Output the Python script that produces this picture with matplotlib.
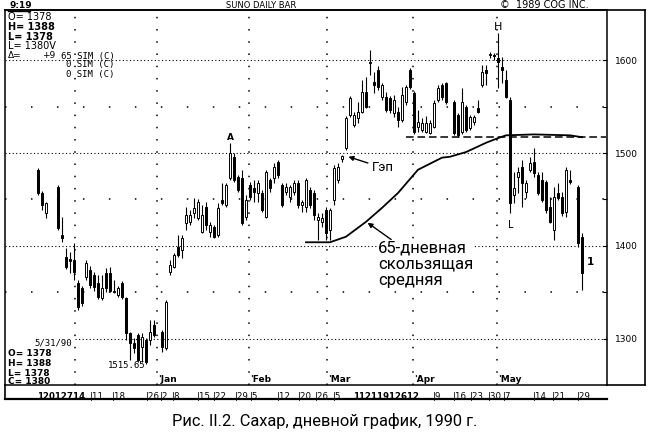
import matplotlib.pyplot as plt
from matplotlib.lines import Line2D

# daily sugar candles, Dec 1989 - May 1990 (trading-day slots, gaps = no bar)
slots = [0, 1, 2, 5, 6, 7, 8, 9, 10, 11, 12, 13, 14, 15, 16, 17, 18, 19, 20, 21,
         22, 23, 24, 25, 26, 27, 28, 29, 31, 32, 33, 34, 35, 36, 37, 38, 39, 40, 41, 42,
         43, 44, 45, 46, 47, 48, 49, 50, 51, 52, 53, 54, 55, 56, 57, 58, 59, 60, 61, 62,
         63, 64, 65, 66, 67, 68, 69, 70, 71, 72, 73, 74, 75, 76, 77, 78, 79, 80, 81, 82,
         83, 84, 85, 86, 87, 88, 89, 90, 91, 92, 93, 94, 95, 96, 97, 98, 99, 100, 101, 102,
         104, 105, 106, 107, 108, 109, 110, 111, 112, 113, 114, 115, 116, 117, 118, 119, 120, 121, 122, 123,
         124, 125, 126, 127, 128, 129, 130, 131, 132, 133, 135, 136]
opens = [1482, 1457, 1436, 1463, 1412, 1388, 1386, 1385, 1360, 1355, 1367, 1374, 1369, 1360, 1344, 1371, 1371, 1352, 1347, 1360,
         1344, 1306, 1296, 1304, 1291, 1299, 1299, 1315, 1307, 1290, 1372, 1377, 1399, 1396, 1425, 1426, 1436, 1430, 1415, 1442,
         1415, 1420, 1412, 1449, 1444, 1473, 1496, 1474, 1473, 1431, 1466, 1462, 1457, 1457, 1431, 1471, 1473, 1490, 1466, 1458,
         1453, 1458, 1468, 1444, 1442, 1460, 1457, 1428, 1426, 1439, 1417, 1449, 1471, 1494, 1505, 1541, 1530, 1538, 1544, 1566,
         1597, 1576, 1589, 1560, 1560, 1559, 1543, 1544, 1535, 1555, 1589, 1565, 1528, 1525, 1523, 1522, 1528, 1557, 1573, 1575,
         1555, 1541, 1523, 1549, 1527, 1533, 1548, 1573, 1589, 1605, 1605, 1602, 1592, 1578, 1557, 1455, 1474, 1485, 1458, 1482,
         1490, 1476, 1471, 1469, 1442, 1417, 1457, 1453, 1437, 1471, 1463, 1410]
highs = [1484, 1459, 1447, 1466, 1431, 1398, 1393, 1403, 1363, 1357, 1385, 1378, 1372, 1369, 1369, 1376, 1377, 1363, 1357, 1362,
         1345, 1308, 1301, 1306, 1306, 1301, 1320, 1320, 1310, 1342, 1385, 1392, 1412, 1412, 1442, 1439, 1452, 1450, 1444, 1447,
         1426, 1423, 1446, 1468, 1468, 1511, 1500, 1476, 1482, 1455, 1469, 1471, 1471, 1460, 1482, 1473, 1489, 1492, 1468, 1468,
         1466, 1471, 1471, 1449, 1473, 1463, 1460, 1435, 1435, 1442, 1441, 1487, 1489, 1498, 1540, 1561, 1544, 1555, 1578, 1582,
         1611, 1587, 1594, 1575, 1566, 1561, 1562, 1549, 1571, 1573, 1591, 1567, 1546, 1538, 1540, 1535, 1557, 1573, 1575, 1576,
         1557, 1543, 1570, 1552, 1541, 1541, 1557, 1595, 1595, 1609, 1608, 1629, 1603, 1589, 1560, 1480, 1485, 1492, 1471, 1496,
         1505, 1480, 1480, 1471, 1453, 1463, 1468, 1458, 1485, 1482, 1466, 1414]
lows = [1455, 1439, 1430, 1417, 1404, 1375, 1371, 1363, 1331, 1335, 1363, 1355, 1352, 1343, 1342, 1350, 1350, 1349, 1345, 1343,
        1299, 1277, 1285, 1275, 1275, 1273, 1294, 1302, 1286, 1288, 1369, 1376, 1388, 1387, 1417, 1423, 1430, 1428, 1414, 1417,
        1410, 1409, 1410, 1444, 1442, 1471, 1469, 1458, 1423, 1428, 1449, 1447, 1447, 1437, 1430, 1458, 1468, 1473, 1442, 1455,
        1447, 1455, 1441, 1437, 1437, 1441, 1428, 1406, 1420, 1406, 1406, 1444, 1468, 1490, 1503, 1539, 1528, 1532, 1543, 1548,
        1584, 1565, 1568, 1557, 1544, 1543, 1539, 1528, 1533, 1552, 1569, 1520, 1523, 1523, 1521, 1520, 1527, 1555, 1557, 1553,
        1519, 1517, 1520, 1523, 1525, 1530, 1543, 1571, 1573, 1602, 1600, 1570, 1575, 1559, 1435, 1446, 1457, 1442, 1452, 1480,
        1474, 1455, 1447, 1435, 1425, 1406, 1449, 1432, 1431, 1467, 1399, 1353]
closes = [1457, 1444, 1446, 1419, 1409, 1377, 1384, 1372, 1334, 1339, 1382, 1358, 1356, 1345, 1355, 1355, 1352, 1350, 1355, 1345,
          1306, 1296, 1290, 1277, 1302, 1275, 1307, 1304, 1291, 1340, 1380, 1390, 1390, 1409, 1433, 1433, 1441, 1447, 1433, 1423,
          1423, 1410, 1441, 1446, 1466, 1500, 1471, 1460, 1425, 1449, 1453, 1458, 1468, 1439, 1480, 1462, 1485, 1476, 1444, 1463,
          1463, 1468, 1444, 1447, 1471, 1444, 1433, 1431, 1430, 1414, 1439, 1484, 1485, 1497, 1538, 1559, 1541, 1544, 1566, 1549,
          1598, 1573, 1571, 1573, 1546, 1546, 1557, 1535, 1562, 1571, 1571, 1523, 1533, 1532, 1532, 1532, 1554, 1570, 1560, 1555,
          1522, 1519, 1555, 1525, 1539, 1539, 1544, 1587, 1586, 1607, 1604, 1598, 1589, 1560, 1446, 1462, 1480, 1468, 1468, 1489,
          1478, 1457, 1449, 1439, 1426, 1453, 1452, 1435, 1482, 1469, 1403, 1371]

# 65-day moving average
ma_slots = [67, 73, 77, 82, 86, 90, 95, 101, 103, 107, 112, 115, 117, 124, 133, 136]
ma_vals = [1404, 1404, 1410, 1426, 1441, 1457, 1482, 1495, 1496, 1501, 1511, 1516, 1519, 1520, 1519, 1517]
resist_level = 1517
resist_span = (92, 142)

price_ticks = [1300, 1400, 1500, 1600]
month_slots = [9.25, 29.75, 52.75, 72.25, 93.75, 114.75]
month_names = ['', "'Jan", "'Feb", "'Mar", "'Apr", "'May"]
date_slots = [-0.25, 13, 18.5, 27, 30.5, 33.5, 39.75, 43.75, 49.25, 53, 59.75, 65, 69.2, 73.75,
              78.75, 98.75, 103.75, 108, 112.5, 116.25, 123.75, 128.5, 134.75]
date_labels = ['12012714', '|11', '|18', '|26', '|2', '|8', '|15', '|22', '|29', '|5', '|12', '|20', '|26', '|5',
               '11211912612', '|9', '|16', '|23', '|30', '|7', '|14', '|21', '|29']

W, H = 650, 432


def fx(px):
    return px / W


def fy(py):
    return 1 - py / H


fig = plt.figure(figsize=(6.5, 4.32), dpi=100)
fig.patch.set_facecolor('white')
ax = fig.add_axes([fx(5), fy(385), fx(602), 375 / H])
ax.set_xlim(-8.25, 142.25)
ax.set_ylim(1250.5, 1653.8)

# grid: dense dotted at the round hundreds, sparse dots in between
for p in price_ticks:
    x0 = 9.25 if p == 1300 else -8.25
    ax.hlines(p, x0, 142.25, colors='black', linestyles=(0, (1, 2.2)), linewidth=0.8)
for p in [1350, 1450, 1550]:
    ax.axhline(p, color='black', linestyle=(0, (1, 16)), linewidth=1.1)
for s in month_slots:
    ax.axvline(s, color='black', linestyle=(0, (1, 7)), linewidth=1.1)

# candles
for s, o, h, l, c in zip(slots, opens, highs, lows, closes):
    ax.vlines(s, l, h, color='black', linewidth=0.8, zorder=3)
    lo = min(o, c)
    ht = max(abs(c - o), 1.2)
    fc = 'black' if c < o else 'white'
    ax.bar(s, ht, bottom=lo, width=0.65, facecolor=fc, edgecolor='black',
           linewidth=0.7, zorder=4)

ax.plot(ma_slots, ma_vals, color='black', linewidth=1.3, zorder=5)
ax.hlines(resist_level, *resist_span, colors='black', linestyles=(0, (5, 2.5)),
          linewidth=1.1, zorder=2)

# price scale on the right
ax.yaxis.tick_right()
ax.set_yticks(price_ticks)
ax.set_yticks([1300, 1350, 1400, 1450, 1500, 1550, 1600], minor=True)
ax.tick_params(axis='y', which='both', direction='in', length=3, width=0.8,
               labelsize=6.5, pad=6)
ax.set_xticks([])
for sp in ax.spines.values():
    sp.set_linewidth(1.1)

# month labels just above the bottom line
for s, name in zip(month_slots, month_names):
    ax.text(s + 0.3, 0.004, name, transform=ax.get_xaxis_transform(),
            fontsize=6.5, fontweight='bold', va='bottom', ha='left')
# date row under the chart
for s, lab in zip(date_slots, date_labels):
    bold = len(lab) > 4
    ax.text(s, -0.018, lab, transform=ax.get_xaxis_transform(), fontsize=6.2,
            fontweight='bold' if bold else 'normal', va='top', ha='left')

# markers on the chart
ax.text(48, 1512, 'A', fontsize=6.5, fontweight='bold', ha='center', va='bottom')
ax.text(115, 1630, 'H', fontsize=8, ha='center', va='bottom')
ax.text(118.3, 1428, 'L', fontsize=7, ha='center', va='top')
ax.text(137.2, 1383, '1', fontsize=7.5, fontweight='bold', ha='left', va='center')
ax.text(17.5, 1272, '1515.65', fontsize=6.5, family='DejaVu Sans Mono', ha='left', va='center')

ru = ['Roboto', 'DejaVu Sans']
ax.annotate('Гэп', xy=(77.6, 1496), xytext=(83.5, 1484), fontsize=9.5, family=ru,
            va='center', ha='left',
            arrowprops=dict(arrowstyle='-|>', color='black', lw=1, mutation_scale=7,
                            shrinkA=1, shrinkB=0))
ax.annotate('65-дневная\nскользящая\nсредняя', xy=(82.4, 1425), xytext=(85, 1406),
            fontsize=12, family=ru, va='top', ha='left', linespacing=1.1, zorder=6,
            bbox=dict(boxstyle='square,pad=0.05', facecolor='white', edgecolor='none'),
            arrowprops=dict(arrowstyle='-|>', color='black', lw=1, mutation_scale=7,
                            shrinkA=0, shrinkB=0))

# outer frame of the screen print
for xs, ys, lw in [((5, 645), (10, 10), 1.2), ((645, 645), (10, 385), 1.2),
                   ((607, 645), (385, 385), 1.2), ((5, 607), (399, 399), 1.6),
                   ((5, 5), (385, 399), 1.2), ((8, 30), (11, 11), 1.0)]:
    fig.add_artist(Line2D([fx(x) for x in xs], [fy(y) for y in ys], color='black',
                          linewidth=lw))

fig.text(fx(9), fy(5), '9:19', fontsize=6.5, fontweight='bold', va='center')
fig.text(fx(226), fy(5), 'SUNO DAILY BAR', fontsize=6, va='center')
fig.text(fx(500), fy(5), '©  1989 COG INC.', fontsize=7, va='center')

info_top = [('O= 1378', 17, 'normal'), ('H= 1388', 27, 'bold'), ('L= 1378', 37, 'bold'),
            ('L= 1380V', 46, 'normal')]
for t, y, w in info_top:
    fig.text(fx(8), fy(y), t, fontsize=7, fontweight=w, va='center')
fig.text(fx(8), fy(55), 'Δ=', fontsize=6.5, va='center')
fig.text(fx(42), fy(55), '+9', fontsize=6.5, va='center')
for t, x, y in [('65 SIM (C)', 61, 56), ('0 SIM (C)', 66, 65), ('0 SIM (C)', 66, 74)]:
    fig.text(fx(x), fy(y), t, fontsize=6.5, family='DejaVu Sans Mono', va='center')

fig.text(fx(72), fy(343), '5/31/90', fontsize=6.5, family='DejaVu Sans Mono',
         ha='right', va='center')
for t, y in [('O= 1378', 354), ('H= 1388', 364), ('L= 1378', 373), ('C= 1380', 382)]:
    fig.text(fx(8), fy(y), t, fontsize=6.5, fontweight='bold', va='center')

fig.text(0.5, fy(421), 'Рис. II.2. Сахар, дневной график, 1990 г.', fontsize=11.8,
         family=ru, ha='center', va='center')

fig.savefig('out.png', dpi=100)
